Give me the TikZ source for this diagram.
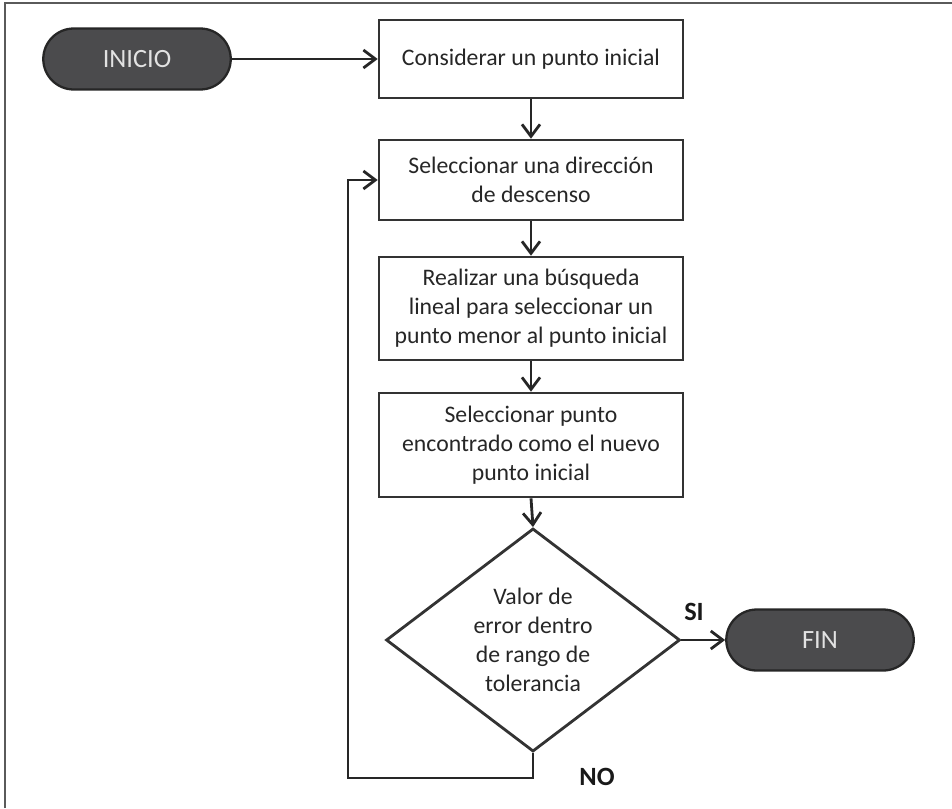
\documentclass[tikz,border=0pt]{standalone}
\usepackage{fontspec}
\setmainfont{Carlito}
\usetikzlibrary{shapes.geometric, arrows.meta}
\definecolor{termfill}{HTML}{4B4B4D}
\definecolor{termtext}{HTML}{E2E2E2}
\definecolor{framegray}{HTML}{5A5A5A}

\begin{document}
\begin{tikzpicture}[x = 0.02cm, y = -0.02cm,
    >= {Straight Barb[length = 2.4mm, width = 3.6mm, line width = 1.6pt]},
    flow/.style = {->, line width = 1.6pt, draw = black!85},
    process/.style = {rectangle, draw = black!80, line width = 1.5pt,
        minimum width = 6.08cm, align = center, text = black!85,
        font = \fontsize{13.5}{16.6}\selectfont},
    decision/.style = {diamond, draw = black!80, line width = 1.6pt,
        minimum width = 5.88cm, minimum height = 4.32cm, inner sep = 0pt,
        align = center, text = black!85, font = \fontsize{13.5}{16.6}\selectfont},
    terminal/.style = {rectangle, rounded corners = 0.61cm, fill = termfill,
        draw = black!85, line width = 1.3pt, text = termtext,
        minimum width = 3.75cm, minimum height = 1.22cm,
        font = \fontsize{15}{18}\selectfont},
    answer/.style = {font = \bfseries\fontsize{15}{18}\selectfont, text = black!90}]
    \useasboundingbox (0,0) rectangle (952,808);
    % frame
    \draw[framegray, line width = 1.1pt] (5,808) -- (5,3) -- (952,3);
    % nodes
    \node[terminal] (inicio) at (137,59) {INICIO};
    \node[process, minimum height = 1.56cm] (considerar) at (531,59)
        {Considerar un punto inicial};
    \node[process, minimum height = 1.6cm] (direccion) at (531,180)
        {Seleccionar una dirección\\de descenso};
    \node[process, minimum height = 2.06cm] (busqueda) at (531,308.5)
        {Realizar una búsqueda\\lineal para seleccionar un\\punto menor al punto inicial};
    \node[process, minimum height = 2.08cm] (nuevo) at (531,445)
        {Seleccionar punto\\encontrado como el nuevo\\punto inicial};
    \node[decision] (error) at (533,640)
        {Valor de\\error dentro\\de rango de\\tolerancia};
    \node[terminal] (fin) at (820,640) {FIN};
    \node[answer] (si) at (694,612) {SI};
    \node[answer] (no) at (597,777) {NO};
    \coordinate (vuelta) at (348,778);
    % connectors
    \draw[flow] (inicio) -- (considerar);
    \draw[flow] (considerar) -- (direccion);
    \draw[flow] (direccion) -- (busqueda);
    \draw[flow] (busqueda) -- (nuevo);
    \draw[flow] (nuevo.south) -- (error.north);
    \draw[flow] (error.east) -- (fin);
    \draw[flow] (error.south) |- (vuelta) |- (direccion.west);
\end{tikzpicture}
\end{document}
